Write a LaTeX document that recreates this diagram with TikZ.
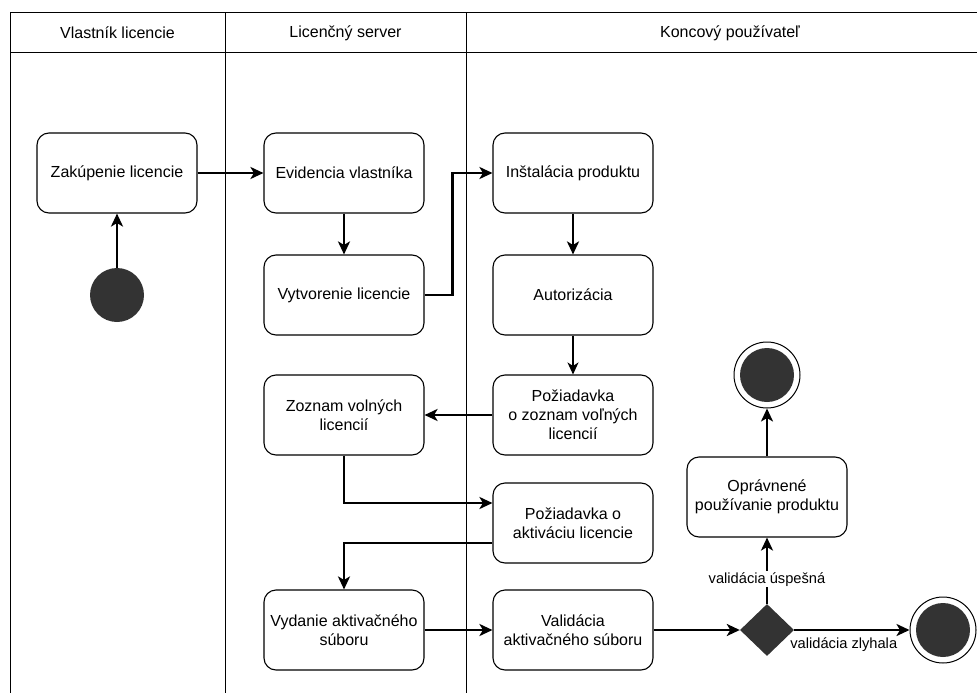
\documentclass[tikz,border=0pt]{standalone}
\usepackage{fontspec}
\setmainfont{Liberation Sans}
\usetikzlibrary{arrows.meta,shapes.geometric}
\definecolor{dotgray}{HTML}{333333}

\begin{document}
\begin{tikzpicture}[x=1pt,y=-1pt,
  act/.style={draw=black, line width=1.1pt, rounded corners=12pt,
    minimum width=160pt, minimum height=80pt, align=center,
    font=\fontsize{16}{19.2}\selectfont},
  lanetitle/.style={font=\fontsize{16}{19.2}\selectfont},
  lanerule/.style={draw=black, line width=1pt},
  flow/.style={draw=black, line width=2.6pt,
    -{Stealth[length=13pt, width=12pt, inset=3.5pt]}},
  thinflow/.style={draw=black, line width=1.1pt,
    -{Stealth[length=12pt, width=11pt, inset=3.5pt]}},
  startdot/.style={circle, fill=dotgray, draw=none, minimum size=54pt, inner sep=0pt},
  enddot/.style={circle, draw=black, line width=1pt, fill=white,
    minimum size=66pt, inner sep=0pt,
    path picture={\fill[dotgray] (path picture bounding box.center) circle (27pt);}},
  choice/.style={diamond, fill=dotgray, draw=none, minimum width=54pt,
    minimum height=52pt, inner sep=0pt},
  edgelabel/.style={font=\fontsize{14.67}{17.6}\selectfont}]

\useasboundingbox (0,0) rectangle (977,693);

% swimlane frame
\draw[lanerule] (10,13) -- (977,13);
\draw[lanerule] (10,53) -- (977,53);
\draw[lanerule] (10,13) -- (10,693);
\draw[lanerule] (225,13) -- (225,693);
\draw[lanerule] (466,13) -- (466,693);
\node[lanetitle] (lane1) at (117.5,33) {Vlastník licencie};
\node[lanetitle] (lane2) at (345.5,33) {Licenčný server};
\node[lanetitle] (lane3) at (730,33) {Koncový používateľ};

% activities
\node[startdot] (start) at (117,295) {};
\node[act] (zak) at (117,173) {Zakúpenie licencie};
\node[act] (evi) at (344,173) {Evidencia vlastníka};
\node[act] (vyt) at (344,295) {Vytvorenie licencie};
\node[act] (ins) at (573,173) {Inštalácia produktu};
\node[act] (aut) at (573,295) {Autorizácia};
\node[act] (poz1) at (573,415) {Požiadavka\\ o zoznam voľných\\licencií};
\node[act] (zoz) at (344,415) {Zoznam volných\\licencií};
\node[act] (poz2) at (573,523) {Požiadavka o\\aktiváciu licencie};
\node[act] (vyd) at (344,630) {Vydanie aktivačného\\súboru};
\node[act] (val) at (573,630) {Validácia\\aktivačného súboru};
\node[choice] (dec) at (767,630) {};
\node[act] (opr) at (767,497) {Oprávnené\\používanie produktu};
\node[enddot] (endok) at (767,375) {};
\node[enddot] (endfail) at (943,630) {};

% control flow
\draw[flow] (start) -- (zak);
\draw[flow] (zak) -- (evi);
\draw[flow] (evi) -- (vyt);
\draw[flow] (vyt.east) -- ++(28,0) |- (ins.west);
\draw[flow] (ins) -- (aut);
\draw[thinflow] (aut) -- (poz1);
\draw[flow] (poz1) -- (zoz);
\draw[flow] (zoz.south) |- ([yshift=20pt]poz2.west);
\draw[flow] ([yshift=-20pt]poz2.west) -| (vyd.north);
\draw[flow] (vyd) -- (val);
\draw[flow] (val) -- (dec);
\draw[flow] (dec) -- node[edgelabel, pos=0.43, yshift=-15pt] {validácia zlyhala} (endfail);
\draw[flow] (dec) -- node[edgelabel, pos=0.37, fill=white, inner sep=1pt] {validácia úspešná} (opr);
\draw[flow] (opr) -- (endok);

\end{tikzpicture}
\end{document}
